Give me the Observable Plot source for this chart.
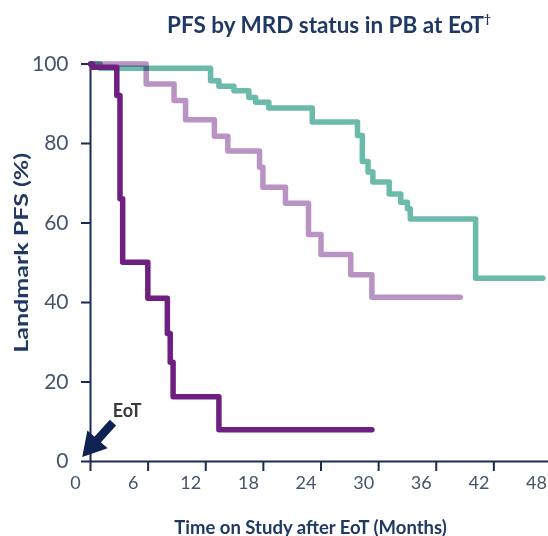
<!DOCTYPE html>
<html><head><meta charset="utf-8">
<script src="https://cdn.jsdelivr.net/npm/d3@7"></script>
<script src="https://cdn.jsdelivr.net/npm/@observablehq/plot@0.6"></script>
<style>
body{margin:0;background:#fff;width:548px;height:536px;overflow:hidden;font-family:Lato,sans-serif}
#title{height:40px;box-sizing:border-box;padding-left:110px;padding-top:5px;text-align:center;font-weight:bold;font-size:22.5px;color:#1f3864;line-height:40px;white-space:nowrap}
#title sup{font-size:12px;vertical-align:10px;line-height:0}
#chart svg{display:block}
</style></head><body>
<div id="title"></div>
<div id="chart"></div>
<script>
const title = "PFS by MRD status in PB at EoT";
const titleMark = "†";
const xLabel = "Time on Study after EoT (Months)";
const yLabel = "Landmark PFS (%)";
const eotText = "EoT";
const xTicks = [0, 6, 12, 18, 24, 30, 36, 42, 48];
const yTicks = [0, 20, 40, 60, 80, 100];

// Series (months after EoT, landmark PFS %)
const tealTime = [0, 1.0, 12.5, 13.37, 14.93, 16.49, 17.19, 18.57, 23.09, 27.8, 28.3, 28.9, 29.4, 31.1, 32.3, 33.0, 33.3, 40.1, 47.1];
const tealPFS  = [100, 98.9, 95.8, 94.4, 93.3, 91.6, 90.4, 88.9, 85.4, 82.0, 75.5, 72.8, 70.3, 67.3, 65.2, 63.6, 61.0, 46.1, 46.1];
const lilacTime = [0, 5.8, 8.7, 9.9, 12.9, 14.3, 17.6, 17.95, 20.3, 22.7, 24.0, 27.1, 29.3, 38.5];
const lilacPFS  = [100, 95, 90.8, 86, 81.8, 78.1, 74, 69, 65, 57.1, 52.1, 47, 41.3, 41.3];
const plumTime = [0, 0.2, 2.74, 3.07, 3.35, 5.97, 8.0, 8.3, 8.6, 13.37, 29.3];
const plumPFS  = [100, 99.2, 92.1, 66.1, 50.1, 41.1, 32.2, 25.0, 16.3, 8.0, 8.0];

// EoT annotation (data coordinates)
const eotShaft = [{x1: 2.34, y1: 9.8, x2: 0.55, y2: 5.0}];
const eotHead = [{x: 0.2, y: 4.1}];
const eotLabelPos = [{x: 3.82, y: 12.7, text: eotText}];

const navy = "#1f3864";
const axisColor = "#1b2b55";
const tickColor = "#44546a";
const arrowColor = "#0f2252";

const rows = (t, v) => t.map((d, i) => ({t: d, v: v[i]}));

document.getElementById("title").innerHTML = title + "<sup>" + titleMark + "</sup>";

const chart = Plot.plot({
  width: 548,
  height: 496,
  marginLeft: 90,
  marginRight: -3,
  marginTop: 23.5,
  marginBottom: 75,
  x: {domain: [0, 48]},
  y: {domain: [0, 100]},
  style: {fontFamily: "Lato, sans-serif", background: "white"},
  marks: [
    Plot.ruleX([0], {stroke: axisColor, strokeWidth: 2}),
    Plot.ruleY([0], {stroke: axisColor, strokeWidth: 2}),
    Plot.axisY(yTicks, {tickSize: 9, tickFormat: () => "", stroke: axisColor, strokeWidth: 2, label: null}),
    Plot.text(yTicks, {y: d => d, text: d => String(d), frameAnchor: "left", dx: -22, textAnchor: "end", fontSize: 21, fill: tickColor}),
    Plot.axisX(xTicks, {tickSize: 10, tickFormat: () => "", stroke: axisColor, strokeWidth: 2, label: null}),
    Plot.text(xTicks, {x: d => d, text: d => String(d), frameAnchor: "bottom", dy: 27, dx: -15, fontSize: 18, fill: tickColor}),
    Plot.line(rows(tealTime, tealPFS), {x: "t", y: "v", curve: "step-after", stroke: "#6bbaab", strokeWidth: 5.5, strokeLinecap: "round"}),
    Plot.line(rows(lilacTime, lilacPFS), {x: "t", y: "v", curve: "step-after", stroke: "#b893c4", strokeWidth: 5.5, strokeLinecap: "round", mixBlendMode: "multiply"}),
    Plot.line(rows(plumTime, plumPFS), {x: "t", y: "v", curve: "step-after", stroke: "#6e1f80", strokeWidth: 5.5, strokeLinecap: "round"}),
    Plot.link(eotShaft, {x1: "x1", y1: "y1", x2: "x2", y2: "y2", stroke: arrowColor, strokeWidth: 8.5}),
    Plot.dot(eotHead, {x: "x", y: "y", symbol: "triangle", r: 10, fill: arrowColor, rotate: 221}),
    Plot.text(eotLabelPos, {x: "x", y: "y", text: "text", fontSize: 18, fontWeight: "bold", fill: "#3a3a3a"}),
    Plot.text([xLabel], {frameAnchor: "bottom", dx: -10.5, dy: 72, fontSize: 18.5, fontWeight: "bold", fill: navy}),
    Plot.text([yLabel], {frameAnchor: "left", rotate: -90, dx: -68, dy: 90, textAnchor: "start", fontSize: 18, fontWeight: "bold", fill: navy})
  ]
});
document.getElementById("chart").append(chart);
d3.select(chart).selectAll("text").filter(function () { return this.textContent === yLabel; })
  .attr("textLength", 200).attr("lengthAdjust", "spacingAndGlyphs");
</script>
</body></html>
